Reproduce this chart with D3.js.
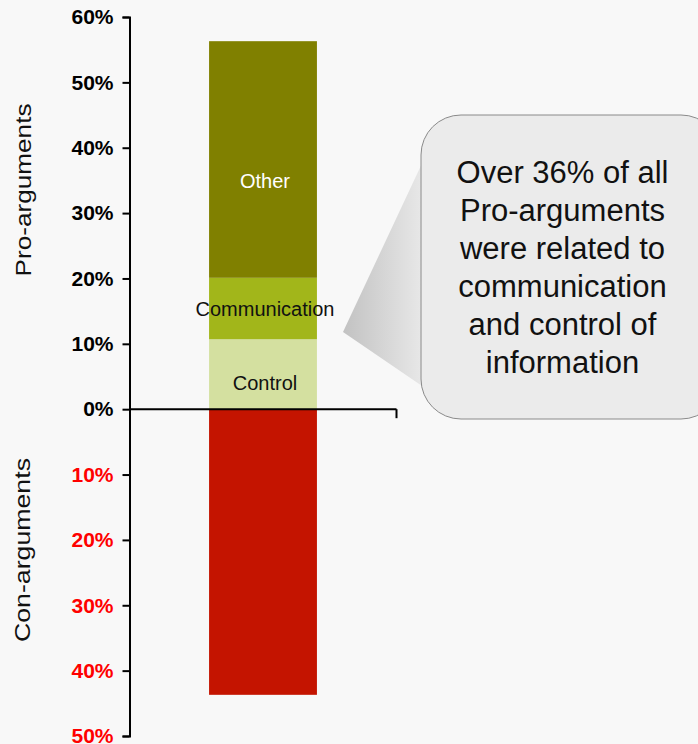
<!DOCTYPE html>
<html>
<head>
<meta charset="utf-8">
<script src="https://cdn.jsdelivr.net/npm/d3@7"></script>
<style>
  html, body { margin: 0; padding: 0; background: #f8f8f8; }
  svg { display: block; }
  text { font-family: "Liberation Sans", Arial, sans-serif; }
</style>
</head>
<body>
<script>
// Share of arguments (percent). Pro segments stack upward, con goes downward.
const proCategories = ["Control", "Communication", "Other"];
const proValues = [10.7, 9.4, 36.2];
const conCategories = ["Con"];
const conValues = [43.7];
const tickValues = [60, 50, 40, 30, 20, 10, 0, -10, -20, -30, -40, -50];
const tickLabels = ["60%", "50%", "40%", "30%", "20%", "10%", "0%", "10%", "20%", "30%", "40%", "50%"];
const calloutLines = ["Over 36% of all", "Pro-arguments", "were related to", "communication", "and control of", "information"];

const W = 698, H = 744;
const colors = { Control: "#d4e0a0", Communication: "#a2b61a", Other: "#808000", Con: "#c41400" };
const labelColors = { Control: "#111", Communication: "#111", Other: "#ffffff" };
// where each label sits inside its segment (0 = bottom, 1 = top)
const labelPos = { Control: 0.38, Communication: 0.5, Other: 0.41 };

const svg = d3.select("body").append("svg").attr("width", W).attr("height", H);

const axisX = 129.5;
const y = d3.scaleLinear().domain([-50, 60]).range([736, 17]);
const x = d3.scaleBand().domain(["All"]).range([axisX, 396.5]).paddingInner(0.596).paddingOuter(0.298);

// stacked pro segments
let acc = 0;
const proSegs = proCategories.map((c, i) => {
  const s = { cat: c, y0: acc, y1: acc + proValues[i] };
  acc += proValues[i];
  return s;
});
const conSegs = conCategories.map((c, i) => ({ cat: c, y0: 0, y1: -conValues[i] }));

const g = svg.append("g");
g.selectAll("rect.pro").data(proSegs).join("rect")
  .attr("class", "pro")
  .attr("x", x("All")).attr("width", x.bandwidth())
  .attr("y", d => y(d.y1)).attr("height", d => y(d.y0) - y(d.y1))
  .attr("fill", d => colors[d.cat]);
g.selectAll("rect.con").data(conSegs).join("rect")
  .attr("class", "con")
  .attr("x", x("All")).attr("width", x.bandwidth())
  .attr("y", d => y(d.y0)).attr("height", d => y(d.y1) - y(d.y0))
  .attr("fill", d => colors[d.cat]);

// segment labels
g.selectAll("text.seg").data(proSegs).join("text")
  .attr("class", "seg")
  .attr("x", x("All") + x.bandwidth() / 2 + 2)
  .attr("y", d => y(d.y0 + (d.y1 - d.y0) * labelPos[d.cat]))
  .attr("dy", "0.35em")
  .attr("text-anchor", "middle")
  .attr("font-size", 20)
  .attr("fill", d => labelColors[d.cat])
  .text(d => d.cat);

// vertical axis
const yAxis = d3.axisLeft(y).tickValues(tickValues).tickSize(7).tickPadding(9)
  .tickFormat((d, i) => tickLabels[i]);
const ya = svg.append("g").attr("transform", `translate(${axisX},0)`).call(yAxis);
ya.select(".domain").attr("stroke", "#000").attr("stroke-width", 2);
ya.selectAll(".tick line").attr("stroke", "#000").attr("stroke-width", 2);
ya.selectAll(".tick text")
  .attr("font-family", "'Liberation Sans', Arial, sans-serif")
  .attr("font-size", 21).attr("font-weight", "bold")
  .attr("fill", d => d < 0 ? "#ff0000" : "#000");

// horizontal baseline at 0 with end tick
const xa = svg.append("g").attr("transform", `translate(0,${y(0)})`)
  .call(d3.axisBottom(x).tickSize(0).tickFormat(""));
xa.select(".domain").remove();
xa.append("line").attr("x1", axisX).attr("x2", 396.5).attr("y1", 0).attr("y2", 0)
  .attr("stroke", "#000").attr("stroke-width", 2);
xa.append("line").attr("x1", 396.5).attr("x2", 396.5).attr("y1", 0).attr("y2", 9)
  .attr("stroke", "#000").attr("stroke-width", 2);

// rotated axis titles
svg.append("text")
  .attr("transform", `translate(31,190) rotate(-90)`)
  .attr("text-anchor", "middle").attr("font-size", 22)
  .attr("textLength", 173).attr("lengthAdjust", "spacingAndGlyphs")
  .attr("fill", "#111").text("Pro-arguments");
svg.append("text")
  .attr("transform", `translate(30,550) rotate(-90)`)
  .attr("text-anchor", "middle").attr("font-size", 22)
  .attr("textLength", 184).attr("lengthAdjust", "spacingAndGlyphs")
  .attr("fill", "#111").text("Con-arguments");

// callout bubble with pointer toward the communication/control segments
const defs = svg.append("defs");
const grad = defs.append("linearGradient").attr("id", "wedgeGrad")
  .attr("x1", "0%").attr("x2", "100%").attr("y1", "0%").attr("y2", "0%");
grad.append("stop").attr("offset", "0%").attr("stop-color", "#c2c2c2");
grad.append("stop").attr("offset", "100%").attr("stop-color", "#e9e9e9");

const box = { x: 421, y: 115, w: 300, h: 304, r: 40 };
const tip = [343, 332];
svg.append("path")
  .attr("d", `M${tip[0]},${tip[1]} L${box.x + 4},${157} L${box.x + 4},${388} Z`)
  .attr("fill", "url(#wedgeGrad)");
svg.append("rect")
  .attr("x", box.x).attr("y", box.y).attr("width", box.w).attr("height", box.h)
  .attr("rx", box.r).attr("ry", box.r)
  .attr("fill", "#ebebeb").attr("stroke", "#8a8a8a").attr("stroke-width", 1);

svg.append("g").selectAll("text").data(calloutLines).join("text")
  .attr("x", 562.5)
  .attr("y", (d, i) => 183 + i * 38)
  .attr("text-anchor", "middle")
  .attr("font-size", 31)
  .attr("fill", "#111")
  .text(d => d);
</script>
</body>
</html>
